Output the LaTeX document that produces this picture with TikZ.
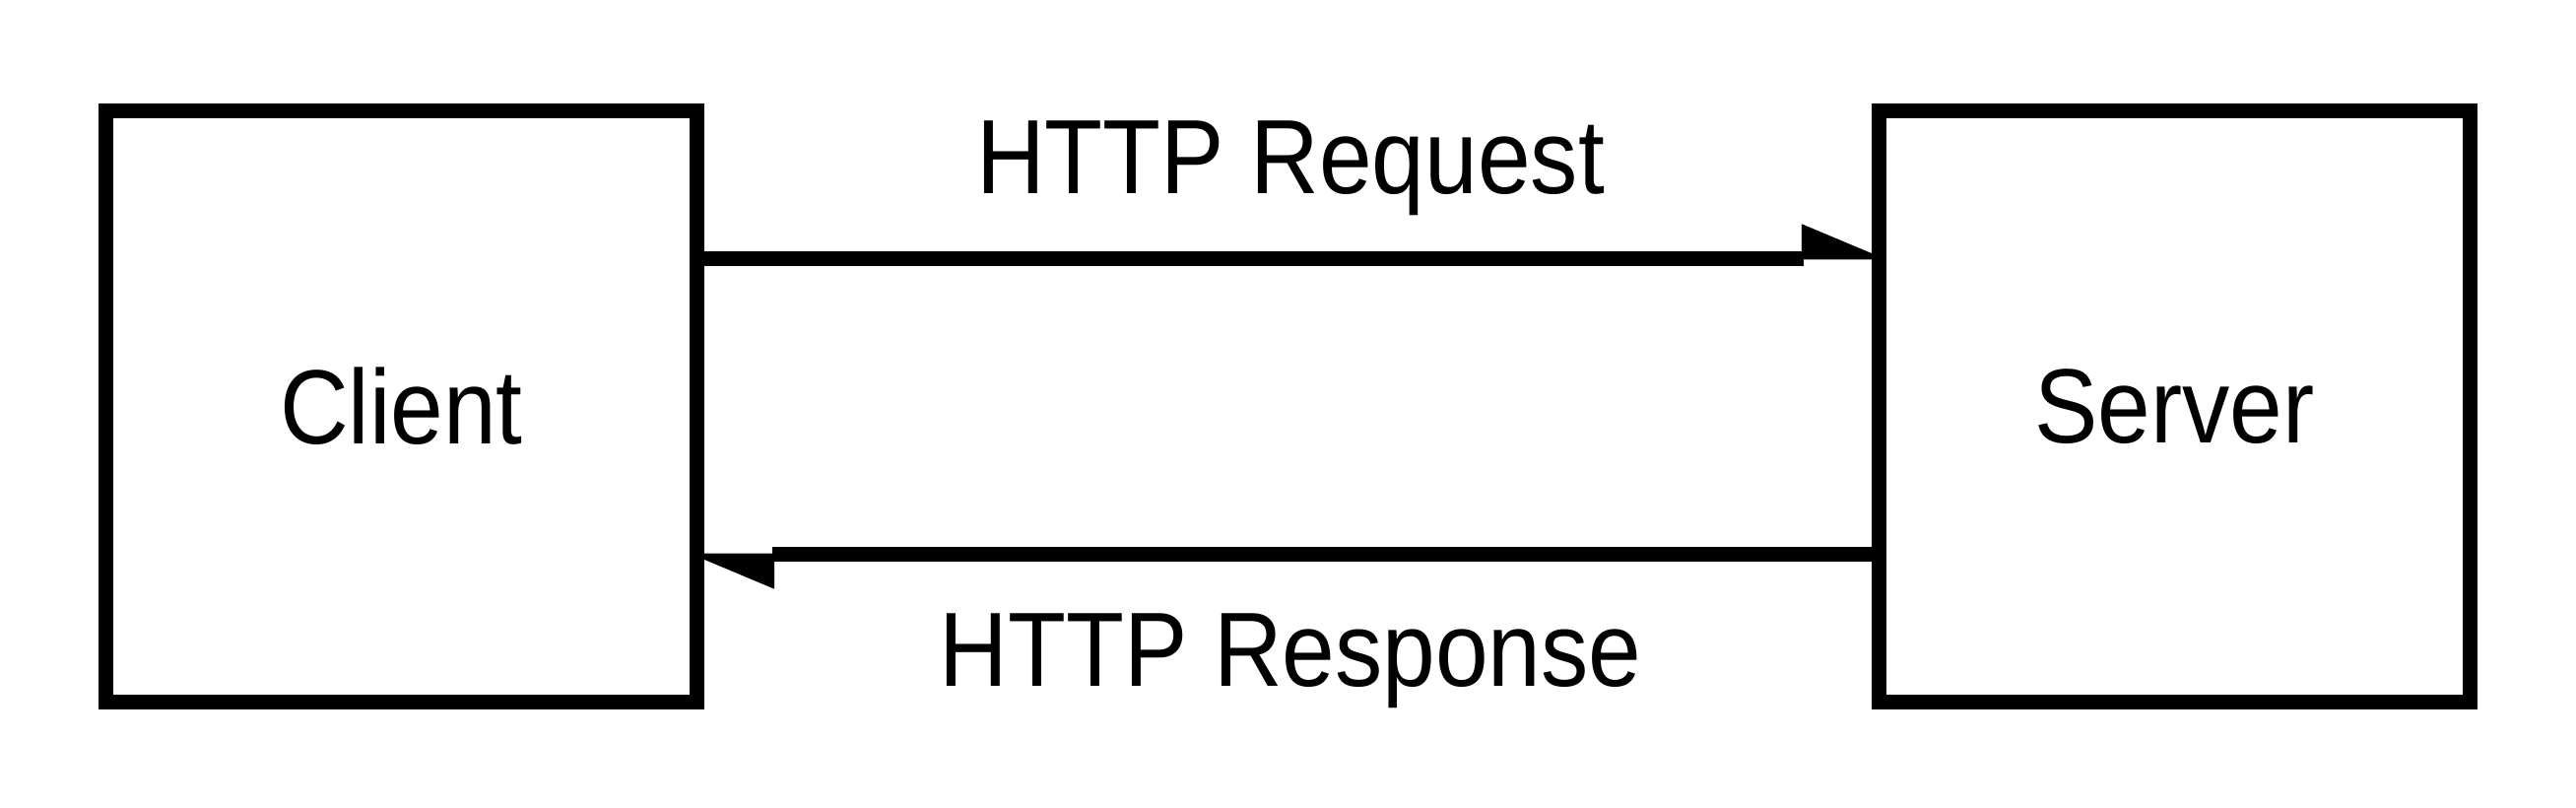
\documentclass[tikz,border=0pt]{standalone}
\usepackage{fontspec}
\setmainfont[FakeStretch=0.9]{Liberation Sans}
\usepackage{tikz}
\usetikzlibrary{arrows.meta, positioning}

\begin{document}
\begin{tikzpicture}[
    box/.style={draw, line width=0.15cm, minimum size=6cm, inner sep=0pt, font=\fontsize{30.5}{36}\selectfont},
    lbl/.style={anchor=base, inner sep=0pt, font=\fontsize{30.5}{36}\selectfont},
    msg/.style={line width=0.15cm, shorten >=-0.15cm, -{Triangle[harpoon, length=0.84cm, width=0.7cm, line width=0.5pt]}}
  ]
  \useasboundingbox (0,0) rectangle (26.15,8.2);

  % client and server
  \node[box] (client) at (4.075, 4.075) {Client};
  \node[box] (server) at (22.075, 4.075) {Server};

  % request / response
  \draw[msg] ([yshift=1.5cm]client.east) -- ([yshift=1.5cm]server.west);
  \draw[msg] ([yshift=-1.5cm]server.west) -- ([yshift=-1.5cm]client.east);

  \node[lbl] (reqlbl) at (13.1, 6.23) {HTTP Request};
  \node[lbl] (resplbl) at (13.1, 1.23) {HTTP Response};
\end{tikzpicture}
\end{document}
